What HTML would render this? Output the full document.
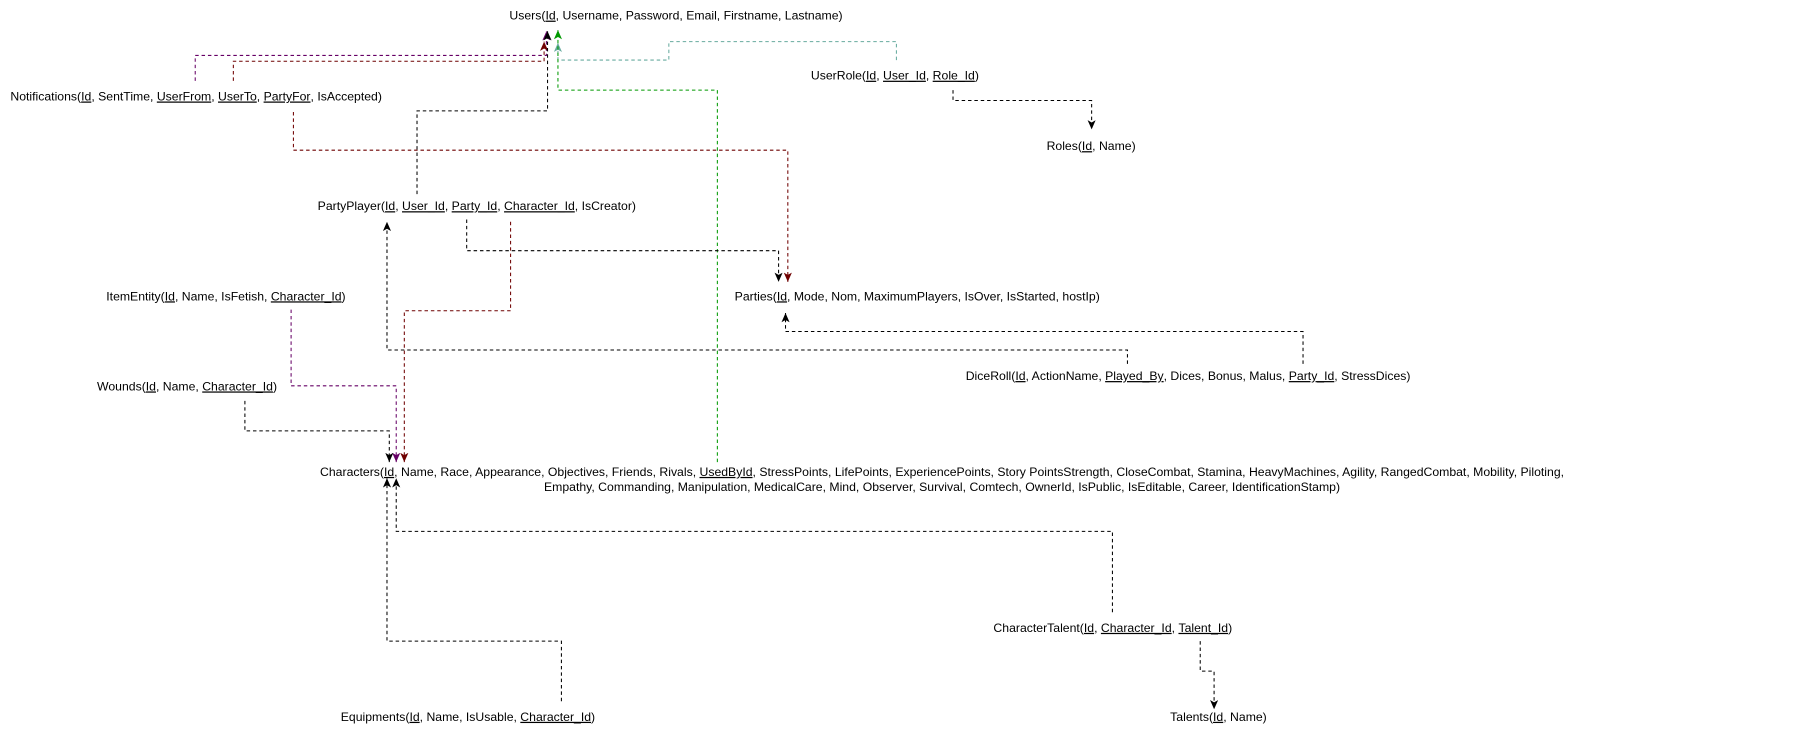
<!DOCTYPE html>
<html><head><meta charset="utf-8"><style>
html,body{margin:0;padding:0;background:#fff;width:1809px;height:731px;overflow:hidden}
svg text{font-family:"Liberation Sans",Arial,sans-serif;font-size:10.6px;fill:#000}
.u{text-decoration:underline}
</style></head><body>
<svg width="1809" height="731" viewBox="0 0 1566 632.8" xmlns="http://www.w3.org/2000/svg">
<defs>
<marker id="mk" markerUnits="userSpaceOnUse" markerWidth="8" markerHeight="7" refX="8" refY="3.5" orient="auto"><path d="M0,0 L8,3.5 L0,7 L2,3.5 z" fill="#000"/></marker>
<marker id="mp" markerUnits="userSpaceOnUse" markerWidth="8" markerHeight="7" refX="8" refY="3.5" orient="auto"><path d="M0,0 L8,3.5 L0,7 L2,3.5 z" fill="#660066"/></marker>
<marker id="mr" markerUnits="userSpaceOnUse" markerWidth="8" markerHeight="7" refX="8" refY="3.5" orient="auto"><path d="M0,0 L8,3.5 L0,7 L2,3.5 z" fill="#6F0000"/></marker>
<marker id="mg" markerUnits="userSpaceOnUse" markerWidth="8" markerHeight="7" refX="8" refY="3.5" orient="auto"><path d="M0,0 L8,3.5 L0,7 L2,3.5 z" fill="#009900"/></marker>
<marker id="mt" markerUnits="userSpaceOnUse" markerWidth="8" markerHeight="7" refX="8" refY="3.5" orient="auto"><path d="M0,0 L8,3.5 L0,7 L2,3.5 z" fill="#67AB9F"/></marker>
</defs>
<g fill="none" stroke-width="0.9" stroke-dasharray="3,2.5">
<path d="M169,70 V48 H473 V27" stroke="#660066" marker-end="url(#mp)"/>
<path d="M202,70 V53 H471 V36" stroke="#6F0000" marker-end="url(#mr)"/>
<path d="M361,168 V96 H474 V27" stroke="#000" marker-end="url(#mk)"/>
<path d="M776,52 V36 H579 V52 H483 V37" stroke="#67AB9F" marker-end="url(#mt)"/>
<path d="M621,400 V78 H483 V26" stroke="#009900" marker-end="url(#mg)"/>
<path d="M825,78 V87 H945 V112" stroke="#000" marker-end="url(#mk)"/>
<path d="M254,97 V130 H682 V244" stroke="#6F0000" marker-end="url(#mr)"/>
<path d="M404,190 V217 H674 V244" stroke="#000" marker-end="url(#mk)"/>
<path d="M442,192 V269 H350 V400" stroke="#6F0000" marker-end="url(#mr)"/>
<path d="M976,315 V303 H335 V192" stroke="#000" marker-end="url(#mk)"/>
<path d="M1128,315 V287 H680 V271" stroke="#000" marker-end="url(#mk)"/>
<path d="M252,268 V334 H343 V400" stroke="#660066" marker-end="url(#mp)"/>
<path d="M212,347 V373 H337 V400" stroke="#000" marker-end="url(#mk)"/>
<path d="M963,530 V460 H343 V414" stroke="#000" marker-end="url(#mk)"/>
<path d="M486,607 V555 H335 V414" stroke="#000" marker-end="url(#mk)"/>
<path d="M1039,555 V581 H1051 V614" stroke="#000" marker-end="url(#mk)"/>
</g>
<text x="441" y="17">Users(<tspan class="u">Id</tspan>, Username, Password, Email, Firstname, Lastname)</text>
<text x="9" y="87">Notifications(<tspan class="u">Id</tspan>, SentTime, <tspan class="u">UserFrom</tspan>, <tspan class="u">UserTo</tspan>, <tspan class="u">PartyFor</tspan>, IsAccepted)</text>
<text x="702" y="69">UserRole(<tspan class="u">Id</tspan>, <tspan class="u">User_Id</tspan>, <tspan class="u">Role_Id</tspan>)</text>
<text x="906" y="130">Roles(<tspan class="u">Id</tspan>, Name)</text>
<text x="275" y="182">PartyPlayer(<tspan class="u">Id</tspan>, <tspan class="u">User_Id</tspan>, <tspan class="u">Party_Id</tspan>, <tspan class="u">Character_Id</tspan>, IsCreator)</text>
<text x="92" y="260">ItemEntity(<tspan class="u">Id</tspan>, Name, IsFetish, <tspan class="u">Character_Id</tspan>)</text>
<text x="636" y="260">Parties(<tspan class="u">Id</tspan>, Mode, Nom, MaximumPlayers, IsOver, IsStarted, hostIp)</text>
<text x="84" y="338">Wounds(<tspan class="u">Id</tspan>, Name, <tspan class="u">Character_Id</tspan>)</text>
<text x="836" y="329">DiceRoll(<tspan class="u">Id</tspan>, ActionName, <tspan class="u">Played_By</tspan>, Dices, Bonus, Malus, <tspan class="u">Party_Id</tspan>, StressDices)</text>
<text x="815.5" y="412" text-anchor="middle">Characters(<tspan class="u">Id</tspan>, Name, Race, Appearance, Objectives, Friends, Rivals, <tspan class="u">UsedById</tspan>, StressPoints, LifePoints, ExperiencePoints, Story PointsStrength, CloseCombat, Stamina, HeavyMachines, Agility, RangedCombat, Mobility, Piloting,</text>
<text x="815.5" y="425" text-anchor="middle">Empathy, Commanding, Manipulation, MedicalCare, Mind, Observer, Survival, Comtech, OwnerId, IsPublic, IsEditable, Career, IdentificationStamp)</text>
<text x="860" y="547">CharacterTalent(<tspan class="u">Id</tspan>, <tspan class="u">Character_Id</tspan>, <tspan class="u">Talent_Id</tspan>)</text>
<text x="295" y="624">Equipments(<tspan class="u">Id</tspan>, Name, IsUsable, <tspan class="u">Character_Id</tspan>)</text>
<text x="1013" y="624">Talents(<tspan class="u">Id</tspan>, Name)</text>
</svg>
</body></html>
